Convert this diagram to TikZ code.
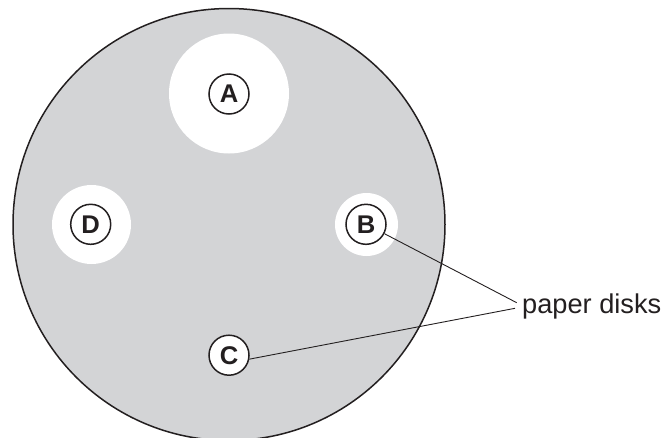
\documentclass[tikz,border=0pt]{standalone}
\usepackage{fontspec}
\setmainfont{Liberation Sans}
\definecolor{agar}{RGB}{211,212,214}
\definecolor{ink}{RGB}{35,31,32}
\begin{document}
\begin{tikzpicture}[x=1pt,y=-1pt,
  halo/.style={fill=white,draw=none},
  paperdisk/.style={circle,draw=ink,line width=1.5pt,fill=white,minimum size=40pt,inner sep=0pt,
    font=\fontsize{25.6}{30}\selectfont\bfseries,text=ink},
  leader/.style={draw=ink,line width=0.9pt}]
\useasboundingbox (0,0) rectangle (667,437);
% plate
\fill[agar] (229,224.5) circle[radius=216];
% clear zones
\fill[halo] (229,93.5) circle[radius=60];
\fill[halo] (91.5,224.5) circle[radius=39.5];
\fill[halo] (366.5,224.5) circle[radius=31.5];
\draw[ink,line width=1.5pt] (229,224.5) circle[radius=216];
% disks
\node[paperdisk] (A) at (229,94) {A};
\node[paperdisk] (D) at (90.7,224.3) {D};
\node[paperdisk] (B) at (366,224.3) {B};
\node[paperdisk] (C) at (229,355.2) {C};
% label
\coordinate (tipB) at (516.7,302.7);
\coordinate (tipC) at (515,308.3);
\node[anchor=base west,inner sep=0pt,font=\fontsize{27.2}{32}\selectfont,text=ink] (lbl) at (522,313) {paper disks};
\draw[leader] (B.-27) -- (tipB);
\draw[leader] (C.-11) -- (tipC);
\end{tikzpicture}
\end{document}
